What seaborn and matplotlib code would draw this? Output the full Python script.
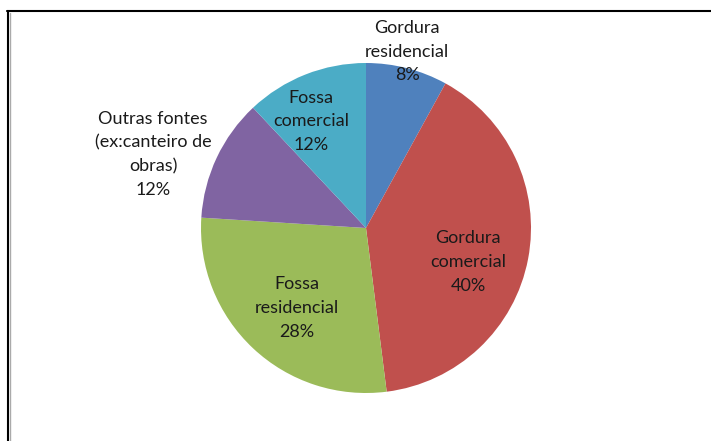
import matplotlib
matplotlib.use("Agg")
import matplotlib.pyplot as plt
from matplotlib.lines import Line2D
import seaborn as sns

# fontes de gordura / esgoto (%)
labels = ["Gordura\nresidencial", "Gordura\ncomercial", "Fossa\nresidencial",
          "Outras fontes\n(ex:canteiro de\nobras)", "Fossa\ncomercial"]
values = [8, 40, 28, 12, 12]
colors = ["#4F81BD", "#C0504D", "#9BBB59", "#8064A2", "#4BACC6"]

# label anchor points (data coords, pie radius = 1)
label_pos = [(0.25, 1.067), (0.62, -0.206), (-0.42, -0.485),
             (-1.29, 0.448), (-0.333, 0.648)]

sns.set_theme(style="white")
plt.rcParams["font.family"] = ["Lato", "DejaVu Sans"]

fig = plt.figure(figsize=(7.11, 4.41), dpi=100)
ax = fig.add_axes([201 / 711, 48 / 441, 330 / 711, 330 / 441])

pal = sns.color_palette(colors)
ax.pie(values, colors=pal, startangle=90, counterclock=False,
       radius=1, wedgeprops=dict(linewidth=0))

for lab, v, (x, y) in zip(labels, values, label_pos):
    ax.text(x, y, f"{lab}\n{v}%", ha="center", va="center",
            fontsize=13, color="#1a1a1a", linespacing=1.58, clip_on=False)

ax.set_xlim(-1, 1); ax.set_ylim(-1, 1)
ax.axis("off")

# frame (only top and left edges visible in the original crop)
fig.add_artist(Line2D([7 / 711, 1], [1 - 11 / 441] * 2, transform=fig.transFigure,
                      color="black", lw=1.5))
fig.add_artist(Line2D([8 / 711] * 2, [0, 1 - 11 / 441], transform=fig.transFigure,
                      color="black", lw=1.5))
fig.add_artist(Line2D([10 / 711] * 2, [0, 1 - 13 / 441], transform=fig.transFigure,
                      color="#aaaaaa", lw=1))

fig.savefig("out.png", dpi=100)
